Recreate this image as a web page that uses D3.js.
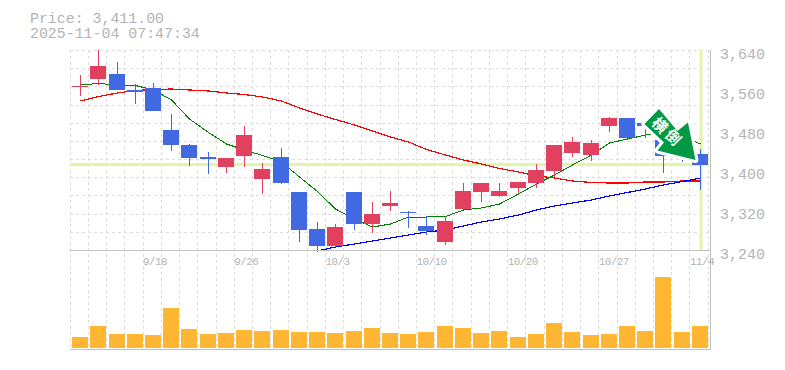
<!DOCTYPE html>
<html><head><meta charset="utf-8">
<script src="https://cdn.jsdelivr.net/npm/d3@7"></script>
<style>
html,body{margin:0;padding:0;background:#fff}
svg{display:block}
text{font-family:"Liberation Mono",monospace;fill:#b4b4b4}
</style></head><body>
<div id="chart"></div>
<script>
const titleLines=["Price: 3,411.00","2025-11-04 07:47:34"];
const dates=["9/11","9/12","9/16","9/17","9/18","9/19","9/22","9/24","9/25","9/26","9/29","9/30","10/1","10/2","10/3","10/6","10/7","10/8","10/9","10/10","10/14","10/15","10/16","10/17","10/20","10/21","10/22","10/23","10/24","10/27","10/28","10/29","10/30","10/31","11/4"];
const xLabels=["9/18","9/26","10/3","10/10","10/20","10/27","11/4"];
const priceTicks=[3240,3320,3400,3480,3560,3640];
const lastPrice=3411;
const opens=[3568,3583,3593,3561,3565,3481,3451,3427,3407,3429,3383,3427,3357,3283,3249,3357,3293,3329,3317,3289,3257,3323,3357,3349,3365,3375,3399,3435,3431,3489,3505,3495,3461,3445,3433];
const highs=[3591,3641,3617,3573,3575,3513,3453,3437,3425,3489,3415,3445,3357,3297,3293,3357,3337,3359,3319,3309,3309,3375,3375,3375,3377,3413,3451,3467,3461,3507,3505,3495,3461,3445,3443];
const lows=[3550,3571,3561,3533,3519,3440,3409,3393,3395,3407,3353,3373,3257,3237,3247,3281,3275,3319,3285,3271,3251,3323,3337,3347,3353,3365,3387,3427,3419,3477,3465,3465,3395,3417,3361];
const closes=[3570,3609,3561,3557,3519,3451,3425,3423,3425,3471,3403,3375,3281,3249,3287,3293,3313,3335,3315,3279,3299,3359,3375,3359,3377,3401,3451,3457,3455,3505,3465,3489,3429,3425,3411];
const maShort=[3571,3574,3571,3570,3561,3541,3503,3476,3453,3441,3430,3417,3387,3358,3323,3303,3287,3293,3307,3307,3308,3321,3325,3333,3353,3373,3391,3411,3431,3455,3463,3471,3477,3469,3453];
const maMid=[3539,3548,3555,3560,3562,3563,3561,3559,3555,3552,3547,3539,3525,3513,3502,3491,3479,3467,3457,3442,3431,3421,3413,3404,3397,3389,3385,3379,3376,3375,3375,3377,3377,3379,3379];
const maLong=[null,null,null,null,null,null,null,null,null,null,null,null,null,3239,3247,3253,3259,3265,3271,3277,3281,3289,3297,3303,3311,3321,3329,3335,3341,3349,3356,3363,3371,3378,3385];
const volumes=[11,22,14,14,13,40,19,14,15,18,17,18,16,16,15,17,20,15,14,16,22,20,15,17,11,14,25,16,13,14,22,17,71,16,22];
const signalText=["横","倒"];

const W=785,H=370;
const svg=d3.select("#chart").append("svg").attr("width",W).attr("height",H);
const x=d3.scaleBand().domain(dates).range([70.2,708.2]);
const y=d3.scaleLinear().domain([3240,3640]).range([250.5,50.5]);
const v=d3.scaleLinear().domain([0,71]).range([348,277]);
const step=x.step();
const crisp=p=>Math.floor(p)+0.5;
const barX=d=>Math.round(x(d)+1.9);
const cx=d=>barX(d)+8.5;

svg.selectAll(".title").data(titleLines).join("text").attr("class","title")
  .attr("x",30).attr("y",(d,i)=>23+i*15).attr("font-size",14.9).text(d=>d);

const grid=svg.append("g").attr("stroke","#ddd").attr("stroke-dasharray","3,3").attr("fill","none");
grid.selectAll(".v").data(dates).join("line").attr("class","v")
  .attr("x1",d=>crisp(x(d))).attr("x2",d=>crisp(x(d))).attr("y1",50).attr("y2",349);
grid.append("line").attr("x1",708.5).attr("x2",708.5).attr("y1",50).attr("y2",349);
grid.selectAll(".h").data(d3.range(0,11)).join("line").attr("class","h")
  .attr("x1",70).attr("x2",709)
  .attr("y1",i=>crisp(y(3640-i*400/11))).attr("y2",i=>crisp(y(3640-i*400/11)));

const lastDate=dates[dates.length-1];
svg.append("line").attr("x1",70).attr("x2",709).attr("y1",y(lastPrice)-0.5).attr("y2",y(lastPrice)-0.5)
  .attr("stroke","#e4f5a8").attr("stroke-width",3);
svg.append("line").attr("x1",cx(lastDate)+0.5).attr("x2",cx(lastDate)+0.5).attr("y1",50).attr("y2",250)
  .attr("stroke","#e4f5a8").attr("stroke-width",3);

const lineGen=d3.line().defined(d=>d.v!=null).x(d=>cx(d.d)).y(d=>y(d.v)).curve(d3.curveLinear);
[[maShort,"#008000",1],[maMid,"#ff0000",1.2],[maLong,"#0000ff",1.2]].forEach(([s,c,w])=>{
  svg.append("path").datum(s.map((val,i)=>({d:dates[i],v:val})))
    .attr("fill","none").attr("stroke",c).attr("stroke-width",w).attr("shape-rendering","crispEdges").attr("d",lineGen);
});

const idx=d3.range(dates.length);
const colorOf=i=>closes[i]>=opens[i]?"#e2405f":"#4169e1";
const candles=svg.append("g").attr("shape-rendering","crispEdges");
candles.selectAll(".wick").data(idx).join("line").attr("class","wick")
  .attr("x1",i=>cx(dates[i])).attr("x2",i=>cx(dates[i]))
  .attr("y1",i=>y(highs[i])).attr("y2",i=>y(lows[i])).attr("stroke",colorOf);
candles.selectAll(".body").data(idx).join("rect").attr("class","body")
  .attr("x",i=>barX(dates[i])).attr("width",16)
  .attr("y",i=>y(Math.max(opens[i],closes[i])))
  .attr("height",i=>Math.abs(y(opens[i])-y(closes[i])))
  .attr("fill",colorOf);

svg.append("g").attr("shape-rendering","crispEdges").selectAll("rect").data(idx).join("rect")
  .attr("x",i=>barX(dates[i])).attr("width",16)
  .attr("y",i=>v(volumes[i])).attr("height",i=>v(0)-v(volumes[i])).attr("fill","#ffb733");

const frame=svg.append("g").attr("stroke","#c0c0c0").attr("shape-rendering","crispEdges");
frame.append("line").attr("x1",70).attr("x2",710).attr("y1",250.5).attr("y2",250.5);
frame.append("line").attr("x1",70).attr("x2",710).attr("y1",349.5).attr("y2",349.5);
frame.append("line").attr("x1",710.5).attr("x2",710.5).attr("y1",50).attr("y2",350);

const yAxis=d3.axisRight(y).tickValues(priceTicks).tickFormat(d3.format(",")).tickSize(0).tickPadding(10);
const ya=svg.append("g").attr("transform","translate(710,0)").call(yAxis);
ya.select(".domain").remove();
ya.selectAll("text").attr("font-size",15).attr("font-family",null).attr("dy","0.5em");

const xAxis=d3.axisBottom(x).tickValues(xLabels).tickSize(0).tickPadding(0);
const xa=svg.append("g").attr("transform","translate(0,257)").call(xAxis);
xa.select(".domain").remove();
xa.selectAll("text").attr("font-size",11).attr("font-family",null).attr("text-anchor","start")
  .attr("letter-spacing","-0.6").attr("x",-step/2).attr("dy","0.71em");

// signal arrow, anchored at the last sessions
const ax=x(lastDate)+5.5, ay=y(3421);
const arrow=svg.append("g").attr("transform",`translate(${ax},${ay})`);
arrow.append("path").attr("d","M-36.5,-51 L-51,-36 L-31.5,-17.5 L-38,-9.5 L0,0 L-7.5,-37.5 L-18,-29 Z")
  .attr("fill","#009944").attr("stroke","#fff").attr("stroke-width",6).attr("stroke-linejoin","round").attr("paint-order","stroke");
arrow.selectAll(".sig").data(signalText).join("text").attr("class","sig")
  .attr("transform",(d,i)=>`translate(${-35.5+i*13.3},${-35+i*12}) rotate(45)`)
  .attr("text-anchor","middle").attr("dy","0.38em")
  .style("font-family","'Noto Sans CJK JP'").style("font-weight",700).style("font-size","15px").style("fill","#fff")
  .text(d=>d);
</script>
</body></html>
